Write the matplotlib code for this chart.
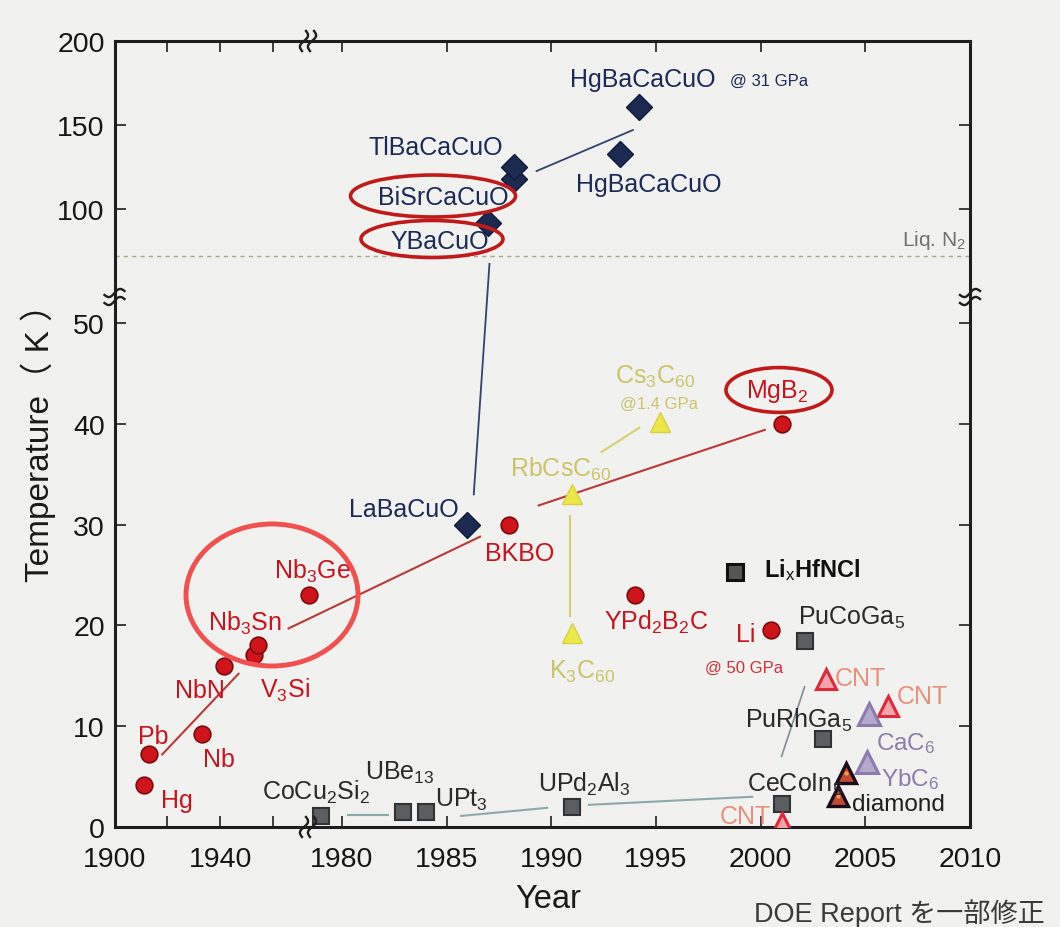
import numpy as np
import matplotlib
matplotlib.use("Agg")
import matplotlib.pyplot as plt
from matplotlib.lines import Line2D
from matplotlib.patches import Ellipse

plt.rcParams["font.family"] = ["Liberation Sans", "Noto Sans CJK JP", "DejaVu Sans"]
plt.rcParams["mathtext.fontset"] = "custom"
plt.rcParams["mathtext.rm"] = "Liberation Sans"
plt.rcParams["mathtext.it"] = "Liberation Sans"
plt.rcParams["mathtext.bf"] = "Liberation Sans:bold"

# ---- data: discovery year and critical temperature (K) ----
# conventional superconductors (red circles)
metal_names = ["Hg", "Pb", "Nb", "NbN", "V$_3$Si", "Nb$_3$Sn", "Nb$_3$Ge",
               "BKBO", "YPd$_2$B$_2$C", "MgB$_2$", "Li"]
metal_year = [1911, 1913, 1933, 1941.5, 1952.5, 1954, 1973.5, 1988, 1994, 2001, 2000.5]
metal_tc = [4.2, 7.2, 9.2, 16, 17.1, 18.1, 23, 30, 23, 40, 19.5]

# cuprates (navy diamonds)
cuprate_names = ["LaBaCuO", "YBaCuO", "BiSrCaCuO", "TlBaCaCuO", "HgBaCaCuO", "HgBaCaCuO"]
cuprate_year = [1986, 1987, 1988.2, 1988.2, 1993.3, 1994.2]
cuprate_tc = [30, 93, 118, 125, 133, 161]

# fullerides (yellow triangles)
fullerene_names = ["K$_3$C$_{60}$", "RbCsC$_{60}$", "Cs$_3$C$_{60}$"]
fullerene_year = [1991, 1991, 1995.2]
fullerene_tc = [19.2, 33, 40.2]

# heavy fermion and other compounds (grey squares)
compound_names = ["CoCu$_2$Si$_2$", "UBe$_{13}$", "UPt$_3$", "UPd$_2$Al$_3$",
                  "CeCoIn$_5$", "PuRhGa$_5$", "PuCoGa$_5$", "Li$_x$HfNCl"]
compound_year = [1979, 1982.9, 1984, 1991, 2001, 2003, 2002.1, 1998.8]
compound_tc = [1.1, 1.5, 1.5, 2.0, 2.3, 8.7, 18.5, 25.3]

# carbon based: nanotubes, intercalated graphite, doped diamond
cnt_year = [2001, 2003.1, 2006.1]
cnt_tc = [0.4, 14.7, 12.0]
gic_names = ["CaC$_6$", "YbC$_6$"]
gic_year = [2005.2, 2005.1]
gic_tc = [11.2, 6.4]
diamond_year = [2004.1, 2003.7]
diamond_tc = [5.4, 3.1]

liq_n2 = 77

# guide lines (year pairs, Tc pairs)
metal_trend = [([1918, 1946.8], [7.2, 15.2]),
               ([1965.7, 1986.6], [19.7, 28.8]),
               ([1989.4, 2000.2], [31.9, 39.4])]
cuprate_trend = [([1986.3, 1987.05], [33, 72.5]),
                 ([1989.3, 1993.9], [122.6, 147])]
fullerene_trend = [([1990.9, 1990.9], [30.9, 20.9]),
                   ([1992.4, 1994.2], [37.2, 39.6])]
compound_trend = [([1980.3, 1982.2], [1.2, 1.2]),
                  ([1985.7, 1989.8], [1.1, 1.9]),
                  ([1991.8, 1999.6], [2.2, 3.0])]
pu_trend = [([2001.0, 2002.1], [7.0, 13.9])]

# ---- broken axes: piecewise linear scales ----
x_knots = [1900, 1973.8, 1978.5, 2010]
x_pos = [0, 195.6, 196.0, 855.75]
y_knots = [0, 50, 53, 77, 100, 200]
y_pos = [0, 504, 529, 571, 618, 786]


def fwd(k, p):
    return lambda v: np.interp(v, k, p)


def inv(k, p):
    return lambda v: np.interp(v, p, k)


fig = plt.figure(figsize=(10.6, 9.28), dpi=100, facecolor="#f1f1ef")
ax = fig.add_axes([114.5 / 1060, 100 / 928, 855.5 / 1060, 786 / 928])
ax.set_facecolor("#f1f1ef")
ax.set_xscale("function", functions=(fwd(x_knots, x_pos), inv(x_knots, x_pos)))
ax.set_yscale("function", functions=(fwd(y_knots, y_pos), inv(y_knots, y_pos)))
ax.set_xlim(1900, 2010)
ax.set_ylim(0, 200)

# ticks
ax.set_xticks([1900, 1940, 1980, 1985, 1990, 1995, 2000, 2005, 2010])
ax.set_xticklabels(["1900", "1940", "1980", "1985", "1990", "1995", "2000", "2005", "2010"])
ax.set_xticks([1920, 1960], minor=True)
ax.set_yticks([0, 10, 20, 30, 40, 50, 100, 150, 200])
ax.set_yticks([], minor=True)
ax.tick_params(which="both", direction="in", length=8, width=1.2, color="#202020",
               top=True, right=True, labelsize=20.5, labelcolor="#161616")
ax.tick_params(axis="x", pad=14)
ax.tick_params(axis="y", pad=7)
for s in ax.spines.values():
    s.set_linewidth(2.2)
    s.set_color("#1e1e1e")

# liquid nitrogen line
ax.axhline(liq_n2, color="#a8a88a", lw=1.0, ls=(0, (3, 3)), zorder=1)
ax.text(0.995, 0.747, "Liq. N$_2$", transform=ax.transAxes, ha="right", va="center",
        fontsize=15, color="#707070")

# guide lines
for xs, ys in metal_trend:
    ax.plot(xs, ys, color="#b83a3a", lw=1.5, zorder=2)
for xs, ys in cuprate_trend:
    ax.plot(xs, ys, color="#34426e", lw=1.3, zorder=2)
for xs, ys in fullerene_trend:
    ax.plot(xs, ys, color="#d8d070", lw=1.5, zorder=2)
for xs, ys in compound_trend:
    ax.plot(xs, ys, color="#8eaaa8", lw=1.5, zorder=2)
for xs, ys in pu_trend:
    ax.plot(xs, ys, color="#7f8f95", lw=1.2, zorder=2)

# markers
ax.plot(metal_year, metal_tc, "o", ms=12, mfc="#d0141c", mec="#7a0d10", mew=1.2,
        ls="none", zorder=4)
ax.plot(cuprate_year, cuprate_tc, "D", ms=13, mfc="#1c2a52", mec="#101a38", mew=1,
        ls="none", zorder=4)
ax.plot(fullerene_year, fullerene_tc, "^", ms=15, mfc="#ece84a", mec="#d8d040", mew=1,
        ls="none", zorder=4)
ax.plot(compound_year[:-1], compound_tc[:-1], "s", ms=11, mfc="#5a5e60", mec="#303234",
        mew=1.5, ls="none", zorder=4)
ax.plot(compound_year[-1:], compound_tc[-1:], "s", ms=11, mfc="#555555", mec="#111111",
        mew=2.2, ls="none", zorder=4)
ax.plot(cnt_year, cnt_tc, "^", ms=15, mfc="#f2a4a8", mec="#e0283c", mew=2.2,
        ls="none", zorder=4)
ax.plot(gic_year, gic_tc, "^", ms=16, mfc="#b4a8cc", mec="#8c7cae", mew=2.2,
        ls="none", zorder=4)
ax.plot(diamond_year, diamond_tc, "^", ms=15, mfc="#c04a36", mec="#1a0c18", mew=2.4,
        ls="none", zorder=4)
ax.plot(diamond_year, diamond_tc, "o", ms=3, mfc="#f0a040", mec="none",
        ls="none", zorder=5)


def label(name, x, y, dx, dy, color, size=18, **kw):
    ax.annotate(name, (x, y), xytext=(dx, dy), textcoords="offset pixels",
                ha=kw.pop("ha", "center"), va="center", fontsize=size, color=color,
                zorder=6, **kw)


# label offsets in pixels from each mark
metal_off = [(33, -15), (4, 18), (17, -25), (-25, -24), (31, -35), (-13, 22), (3, 25),
             (10, -28), (21, -26), (-4, 33), (-25, -4)]
for n, x, y, o in zip(metal_names, metal_year, metal_tc, metal_off):
    label(n, x, y, o[0], o[1], "#c8141e")
label("@ 50 GPa", metal_year[-1], metal_tc[-1], -27, -37, "#d0303a", size=12)

cuprate_off = [(-64, 16), (-49, -18), (-70, -18), (-78, 20), (28, -30), (4, 28)]
for n, x, y, o in zip(cuprate_names, cuprate_year, cuprate_tc, cuprate_off):
    label(n, x, y, o[0], o[1], "#1c2a55")
label("@ 31 GPa", cuprate_year[-1], cuprate_tc[-1], 130, 26, "#1c2a55", size=12)

fullerene_off = [(10, -37), (-11, 26), (-5, 46)]
for n, x, y, o in zip(fullerene_names, fullerene_year, fullerene_tc, fullerene_off):
    label(n, x, y, o[0], o[1], "#ccc46a")
label("@1.4 GPa", fullerene_year[-1], fullerene_tc[-1], -1, 18, "#ccc46a", size=12)

compound_off = [(-5, 25), (-3, 40), (36, 13), (12, 23), (13, 20), (-25, 20), (47, 24)]
for n, x, y, o in zip(compound_names, compound_year, compound_tc, compound_off):
    label(n, x, y, o[0], o[1], "#2a2a2a")
label(compound_names[-1], compound_year[-1], compound_tc[-1], 29, 3, "#111111",
      size=17, ha="left", fontweight="bold")

cnt_off = [(-36, 7), (35, 1), (34, 10)]
for x, y, o in zip(cnt_year, cnt_tc, cnt_off):
    label("CNT", x, y, o[0], o[1], "#e8907e")
gic_off = [(36, -28), (43, -16)]
for n, x, y, o in zip(gic_names, gic_year, gic_tc, gic_off):
    label(n, x, y, o[0], o[1], "#8a7ea8", size=17.5)
label("diamond", diamond_year[1], diamond_tc[1], 60, -8, "#1e1e1e", size=17.5)

# highlight rings
rings = [((0.1841, 0.2952), 0.2011, 0.1807, "#f05050", 3.5),
         ((0.3723, 0.8028), 0.1929, 0.0534, "#c01a1a", 2.6),
         ((0.3711, 0.7481), 0.1660, 0.0471, "#c01a1a", 2.6),
         ((0.7767, 0.5560), 0.1239, 0.0570, "#c01a1a", 2.6)]
for c, w, h, col, lw in rings:
    ax.add_patch(Ellipse(c, w, h, transform=ax.transAxes, fill=False, ec=col, lw=lw,
                         zorder=7, clip_on=False))

# axis titles
ax.text(-0.0894, 0.5, "Temperature（ K ）", transform=ax.transAxes, rotation=90,
        ha="center", va="center", fontsize=24, color="#1a1a1a")
ax.text(0.5067, -0.0916, "Year", transform=ax.transAxes, ha="center", va="center",
        fontsize=23.5, color="#1a1a1a")
fig.text(1045 / 1060, 14 / 928, "DOE Report を一部修正", ha="right", va="center",
         fontsize=19.5, color="#3a3a3a")


# squiggle marks where the axes are broken
def draw_break(xa, ya, across_x):
    bb = ax.get_position()
    W, H = 1060, 928
    cx = (bb.x0 + xa * bb.width) * W
    cy = (bb.y0 + ya * bb.height) * H
    t = np.linspace(-1, 1, 40)
    for off in (-4, 4):
        if across_x:
            px = cx + off + 3 * np.sin(np.pi * t) + 2 * t
            py = cy + 10 * t
        else:
            px = cx + 10 * t
            py = cy + off + 3 * np.sin(np.pi * t) + 2 * t
        fig.add_artist(Line2D(px / W, py / H, transform=fig.transFigure,
                              color="#1e1e1e", lw=1.7))


bx = (308 - 114.5) / 855.5
by = 530 / 786
draw_break(bx, 0, True)
draw_break(bx, 1, True)
draw_break(0, by, False)
draw_break(1, by, False)

fig.savefig("out.png", dpi=100, facecolor=fig.get_facecolor())
